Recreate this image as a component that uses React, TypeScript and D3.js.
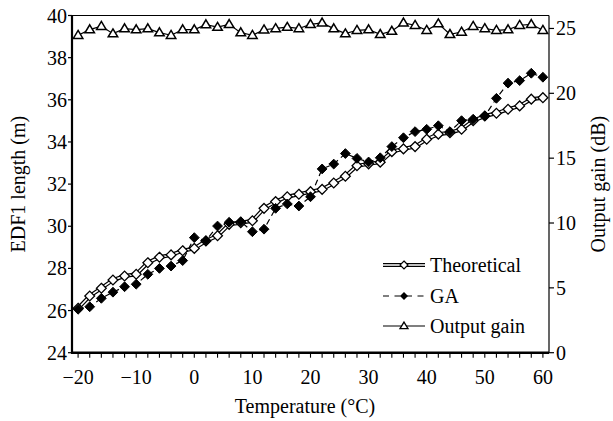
import React from 'react'
import { scaleLinear, line } from 'd3'

// temperature points (°C)
const temps = [-20, -18, -16, -14, -12, -10, -8, -6, -4, -2, 0, 2, 4, 6, 8, 10, 12, 14, 16, 18, 20,
    22, 24, 26, 28, 30, 32, 34, 36, 38, 40, 42, 44, 46, 48, 50, 52, 54, 56, 58, 60]

// EDF1 length (m)
const theoretical = [26.11, 26.69, 27.06, 27.45, 27.64, 27.72, 28.27, 28.53, 28.64, 28.84, 28.95, 29.3, 29.55,
    30.09, 30.17, 30.26, 30.85, 31.17, 31.4, 31.52, 31.64, 31.75, 32.05, 32.37, 32.87, 32.96, 33.04, 33.54,
    33.67, 33.78, 34.13, 34.37, 34.44, 34.6, 35.01, 35.23, 35.36, 35.55, 35.71, 36.03, 36.1]
const ga = [26.06, 26.18, 26.58, 26.87, 27.13, 27.25, 27.72, 28.0, 28.11, 28.37, 29.46, 29.32, 30.01,
    30.19, 30.22, 29.74, 29.86, 30.85, 31.06, 30.96, 31.4, 32.72, 32.95, 33.45, 33.22, 33.05, 33.25, 33.78,
    34.2, 34.49, 34.6, 34.77, 34.49, 35.01, 35.08, 35.23, 36.07, 36.79, 36.91, 37.26, 37.07]
// Output gain (dB)
const gain = [24.48, 24.91, 25.17, 24.6, 24.99, 24.91, 24.99, 24.68, 24.48, 24.91, 24.91, 25.3, 25.1,
    25.32, 24.68, 24.48, 24.9, 25.0, 25.1, 25.0, 25.32, 25.43, 24.99, 24.6, 24.86, 24.91, 24.55, 24.8,
    25.43, 25.25, 24.86, 25.37, 24.55, 24.73, 25.17, 25.0, 24.86, 24.91, 25.25, 25.32, 24.86]

const xTicks = [-20, -10, 0, 10, 20, 30, 40, 50, 60]
const xTickLabels = ['\u221220', '\u221210', '0', '10', '20', '30', '40', '50', '60']
const yLeftTicks = [24, 26, 28, 30, 32, 34, 36, 38, 40]
const yRightTicks = [0, 5, 10, 15, 20, 25]
const legendNames = ['Theoretical', 'GA', 'Output gain']

const W = 613
const H = 421
const m = { left: 72, right: 549, top: 15.5, bottom: 352.7 }
const font = "'Liberation Serif', 'Times New Roman', serif"
const fs = 20

const diamond = (r) => `M0,${-r}L${r},0L0,${r}L${-r},0Z`
const triangle = (w, h) => `M0,${-h * 0.6}L${w / 2},${h * 0.4}L${-w / 2},${h * 0.4}Z`

const App = () => {
    const x = scaleLinear().domain([-21.05, 61.05]).range([m.left, m.right])
    const yL = scaleLinear().domain([24, 40]).range([m.bottom, m.top])
    const yR = scaleLinear().domain([0, 26]).range([m.bottom, m.top])

    const lineL = line().x((d, i) => x(temps[i])).y(d => yL(d))
    const lineR = line().x((d, i) => x(temps[i])).y(d => yR(d))

    const lx0 = 383, lx1 = 425, lmid = 404, ltext = 430
    const ly = [265, 296, 326]

    return (
        <svg width={W} height={H} style={{ position: 'absolute', left: 0, top: 0, background: '#fff', fontFamily: font, fontSize: fs }}>
            {/* frame */}
            <line x1={m.left} x2={m.right} y1={m.top} y2={m.top} stroke="#000" strokeWidth={1.2} />
            <line x1={m.right} x2={m.right} y1={m.top} y2={m.bottom} stroke="#000" strokeWidth={1.2} />

            {/* output gain */}
            <path d={lineR(gain)} fill="none" stroke="#000" strokeWidth={1.2} />
            {gain.map((v, i) => (
                <path key={'g' + i} d={triangle(9.5, 8)} transform={`translate(${x(temps[i])},${yR(v)})`}
                    fill="#fff" stroke="#000" strokeWidth={1.5} />
            ))}

            {/* theoretical: double line */}
            <path d={lineL(theoretical)} fill="none" stroke="#000" strokeWidth={4} />
            <path d={lineL(theoretical)} fill="none" stroke="#fff" strokeWidth={1.6} />

            {/* GA dashed */}
            <path d={lineL(ga)} fill="none" stroke="#000" strokeWidth={1.2} strokeDasharray="6,4" />
            {theoretical.map((v, i) => (
                <path key={'t' + i} d={diamond(4.9)} transform={`translate(${x(temps[i])},${yL(v)})`}
                    fill="#fff" stroke="#000" strokeWidth={1.3} />
            ))}
            {ga.map((v, i) => (
                <path key={'a' + i} d={diamond(4.9)} transform={`translate(${x(temps[i])},${yL(v)})`}
                    fill="#000" stroke="#000" strokeWidth={1} />
            ))}

            {/* left axis */}
            <line x1={m.left} x2={m.left} y1={m.top - 0.5} y2={m.bottom + 1} stroke="#000" strokeWidth={2.2} />
            {yLeftTicks.map(t => (
                <g key={'yl' + t} transform={`translate(${m.left},${yL(t)})`}>
                    <line x1={-4} x2={0} stroke="#000" strokeWidth={1.2} />
                    <text x={-5} dy="0.35em" textAnchor="end">{t}</text>
                </g>
            ))}

            {/* right axis */}
            {yRightTicks.map(t => (
                <g key={'yr' + t} transform={`translate(${m.right},${yR(t)})`}>
                    <line x1={0} x2={5} stroke="#000" strokeWidth={1.2} />
                    <text x={7} dy="0.35em" textAnchor="start">{t}</text>
                </g>
            ))}

            {/* bottom axis */}
            <line x1={m.left - 1} x2={m.right} y1={m.bottom} y2={m.bottom} stroke="#000" strokeWidth={2.4} />
            {temps.map(t => (
                <line key={'xm' + t} x1={x(t)} x2={x(t)} y1={m.bottom} y2={m.bottom + 5} stroke="#000" strokeWidth={1.1} />
            ))}
            {xTicks.map((t, i) => (
                <text key={'xl' + t} x={x(t)} y={m.bottom + 31} textAnchor="middle">{xTickLabels[i]}</text>
            ))}

            {/* axis titles */}
            <text x={305} y={m.bottom + 60} textAnchor="middle">Temperature (°C)</text>
            <text transform={`translate(25,${(m.top + m.bottom) / 2}) rotate(-90)`} textAnchor="middle">EDF1 length (m)</text>
            <text transform={`translate(605,${(m.top + m.bottom) / 2}) rotate(-90)`} textAnchor="middle">Output gain (dB)</text>

            {/* legend */}
            <g>
                <line x1={lx0} x2={lx1} y1={ly[0]} y2={ly[0]} stroke="#000" strokeWidth={4} />
                <line x1={lx0} x2={lx1} y1={ly[0]} y2={ly[0]} stroke="#fff" strokeWidth={1.6} />
                <path d={diamond(4)} transform={`translate(${lmid},${ly[0]})`} fill="#fff" stroke="#000" strokeWidth={1.2} />
                <text x={ltext} y={ly[0]} dy="0.35em">{legendNames[0]}</text>

                <line x1={lx0} x2={lx1} y1={ly[1]} y2={ly[1]} stroke="#000" strokeWidth={1.2} strokeDasharray="6,5.5" />
                <path d={diamond(4)} transform={`translate(${lmid},${ly[1]})`} fill="#000" />
                <text x={ltext} y={ly[1]} dy="0.35em">{legendNames[1]}</text>

                <line x1={lx0} x2={lx1} y1={ly[2]} y2={ly[2]} stroke="#000" strokeWidth={1.2} />
                <path d={triangle(8, 6.5)} transform={`translate(${lmid},${ly[2]})`} fill="#fff" stroke="#000" strokeWidth={1.3} />
                <text x={ltext} y={ly[2]} dy="0.35em">{legendNames[2]}</text>
            </g>
        </svg>
    )
}

export default App
